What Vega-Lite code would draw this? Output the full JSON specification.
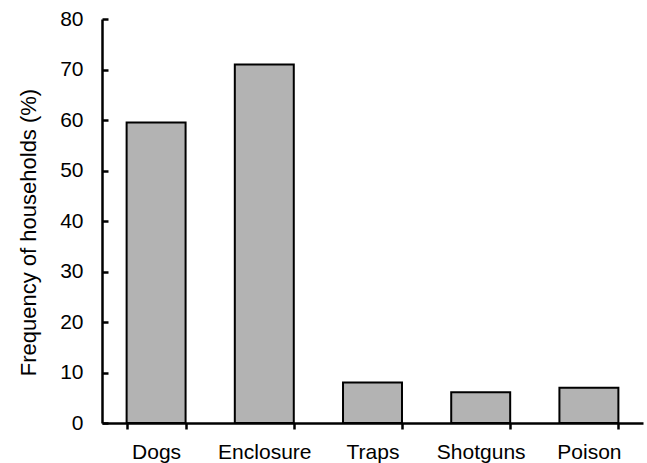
{
  "$schema": "https://vega.github.io/schema/vega-lite/v6.json",
  "width": 541,
  "height": 404,
  "autosize": {"type": "none"},
  "padding": {"left": 102, "top": 19, "right": 4, "bottom": 40},
  "background": "white",
  "data": {"values": [
    {"method": "Dogs", "pct": 59.5},
    {"method": "Enclosure", "pct": 71},
    {"method": "Traps", "pct": 8},
    {"method": "Shotguns", "pct": 6.1},
    {"method": "Poison", "pct": 7}
  ]},
  "config": {
    "view": {"stroke": null},
    "font": "Liberation Sans"
  },
  "mark": {"type": "bar", "fill": "#b3b3b3", "stroke": "black", "strokeWidth": 2},
  "encoding": {
    "x": {
      "field": "method", "type": "nominal", "sort": null,
      "scale": {"paddingInner": 0.455, "paddingOuter": 0.2275},
      "axis": {
        "title": null, "labelAngle": 0, "labelFontSize": 21, "labelColor": "black",
        "labelPadding": 12, "tickBand": "extent", "tickSize": 6, "tickWidth": 2.5, "tickColor": "black",
        "domainColor": "black", "domainWidth": 2.5, "grid": false
      }
    },
    "y": {
      "field": "pct", "type": "quantitative",
      "scale": {"domain": [0, 80], "nice": false},
      "axis": {
        "title": "Frequency of households (%)", "titleFontSize": 22, "titleFontWeight": "normal",
        "titleColor": "black", "titleAngle": -90, "titleX": -67, "titleY": 213,
        "titleAlign": "center", "titleBaseline": "alphabetic",
        "values": [0, 10, 20, 30, 40, 50, 60, 70, 80],
        "labelFontSize": 21, "labelColor": "black", "labelPadding": 25,
        "tickSize": -6, "tickWidth": 2.5, "tickColor": "black",
        "domainColor": "black", "domainWidth": 2.5, "grid": false
      }
    }
  }
}
